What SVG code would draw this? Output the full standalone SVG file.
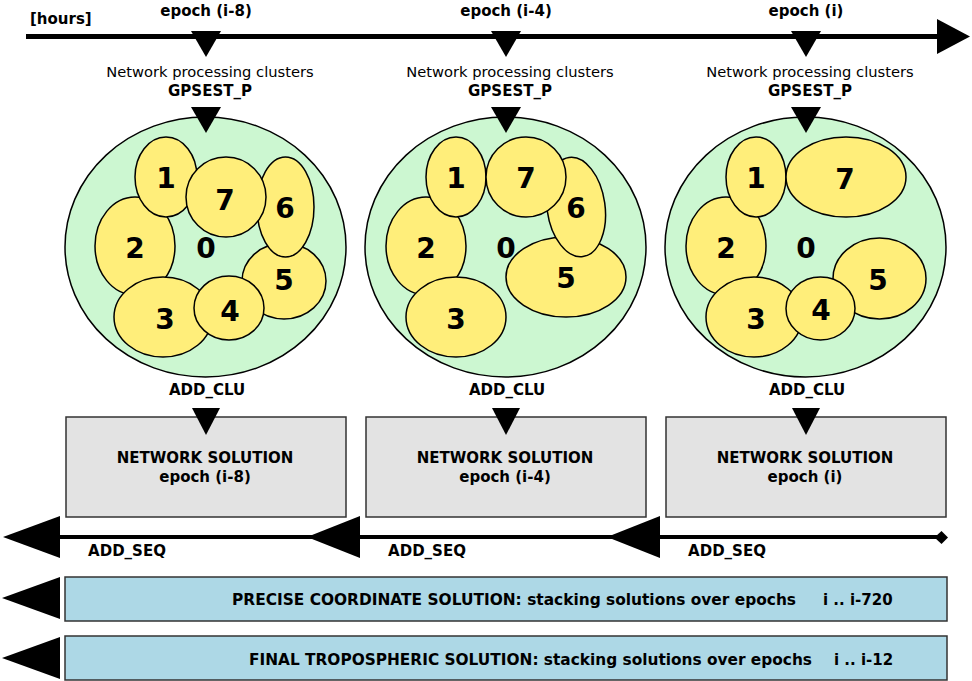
<svg xmlns="http://www.w3.org/2000/svg" width="972" height="681" viewBox="0 0 972 681">
<style>
text{font-family:"DejaVu Sans","Liberation Sans",sans-serif;fill:#000}
.b{font-weight:bold;font-size:15px}
.r{font-size:14.7px}
.c{text-anchor:middle}
.num{font-weight:bold;font-size:28px;text-anchor:middle}
.big{fill:#ccf7d1;stroke:#000;stroke-width:1.5}
.el{fill:#ffee7a;stroke:#000;stroke-width:1.5}
.box{fill:#e3e3e3;stroke:#333;stroke-width:1.5}
.band{fill:#add8e6;stroke:#333;stroke-width:1.5}
.ln{stroke:#000;fill:none}
.hd{fill:#000}
</style>

<g id="timeline">
<line class="ln" x1="26" y1="36.5" x2="940" y2="36.5" stroke-width="5"/>
<polygon class="hd" points="937,19 970,36.5 937,54"/>
<text class="b" x="30" y="24">[hours]</text>
<text class="b c" x="206" y="16">epoch (i-8)</text>
<text class="b c" x="506" y="16">epoch (i-4)</text>
<text class="b c" x="806" y="16">epoch (i)</text>
</g>

<g id="cluster1">
<text class="r c" x="210" y="77">Network processing clusters</text>
<text class="b c" x="210" y="96">GPSEST_P</text>
<ellipse class="big" cx="205.5" cy="247" rx="140.5" ry="130"/>
<ellipse class="el" cx="135" cy="246" rx="40" ry="49"/>
<ellipse class="el" cx="166" cy="177" rx="31" ry="40"/>
<ellipse class="el" cx="163" cy="317" rx="49" ry="40"/>
<ellipse class="el" cx="284" cy="281" rx="42" ry="38"/>
<ellipse class="el" cx="229" cy="308" rx="35" ry="32"/>
<ellipse class="el" cx="285.5" cy="207" rx="28.5" ry="50"/>
<ellipse class="el" cx="226" cy="197" rx="40" ry="40"/>
<text class="num" x="166" y="188">1</text>
<text class="num" x="225" y="210">7</text>
<text class="num" x="285" y="218">6</text>
<text class="num" x="135" y="258">2</text>
<text class="num" x="206" y="258">0</text>
<text class="num" x="284" y="290">5</text>
<text class="num" x="165" y="329">3</text>
<text class="num" x="230" y="321">4</text>
</g>

<g id="cluster2">
<text class="r c" x="510" y="77">Network processing clusters</text>
<text class="b c" x="510" y="96">GPSEST_P</text>
<ellipse class="big" cx="505.5" cy="247" rx="140.5" ry="130"/>
<ellipse class="el" cx="426" cy="246" rx="40" ry="49"/>
<ellipse class="el" cx="456" cy="177" rx="30" ry="40"/>
<ellipse class="el" cx="456" cy="317" rx="50" ry="40"/>
<ellipse class="el" cx="566" cy="277" rx="60" ry="40"/>
<ellipse class="el" cx="576" cy="207" rx="29" ry="50" transform="rotate(-8 576 207)"/>
<ellipse class="el" cx="526" cy="177" rx="40" ry="40"/>
<text class="num" x="456" y="188">1</text>
<text class="num" x="526" y="188">7</text>
<text class="num" x="576" y="218">6</text>
<text class="num" x="426" y="258">2</text>
<text class="num" x="506" y="258">0</text>
<text class="num" x="566" y="288">5</text>
<text class="num" x="456" y="329">3</text>
</g>

<g id="cluster3">
<text class="r c" x="810" y="77">Network processing clusters</text>
<text class="b c" x="810" y="96">GPSEST_P</text>
<ellipse class="big" cx="805.5" cy="247" rx="140.5" ry="130"/>
<ellipse class="el" cx="726" cy="246" rx="40" ry="49"/>
<ellipse class="el" cx="756" cy="177" rx="30" ry="40"/>
<ellipse class="el" cx="754" cy="317" rx="48" ry="40"/>
<ellipse class="el" cx="879.5" cy="278.5" rx="46.5" ry="40.5"/>
<ellipse class="el" cx="820.5" cy="308.5" rx="34.5" ry="31.5"/>
<ellipse class="el" cx="846" cy="177" rx="60" ry="40"/>
<text class="num" x="756" y="188">1</text>
<text class="num" x="845" y="189">7</text>
<text class="num" x="726" y="258">2</text>
<text class="num" x="806" y="258">0</text>
<text class="num" x="878" y="290">5</text>
<text class="num" x="756" y="329">3</text>
<text class="num" x="821" y="320">4</text>
</g>

<g id="solution1">
<text class="b c" x="207" y="395">ADD_CLU</text>
<rect class="box" x="66" y="417" width="280" height="100"/>
<text class="b c" x="205" y="463">NETWORK SOLUTION</text>
<text class="b c" x="205" y="482">epoch (i-8)</text>
</g>
<g id="solution2">
<text class="b c" x="507" y="395">ADD_CLU</text>
<rect class="box" x="366" y="417" width="280" height="100"/>
<text class="b c" x="505" y="463">NETWORK SOLUTION</text>
<text class="b c" x="505" y="482">epoch (i-4)</text>
</g>
<g id="solution3">
<text class="b c" x="807" y="395">ADD_CLU</text>
<rect class="box" x="666" y="417" width="280" height="100"/>
<text class="b c" x="805" y="463">NETWORK SOLUTION</text>
<text class="b c" x="805" y="482">epoch (i)</text>
</g>

<g id="precise">
<rect class="band" x="65" y="577" width="882" height="44"/>
<text class="b" x="232" y="605" textLength="564" lengthAdjust="spacingAndGlyphs">PRECISE COORDINATE SOLUTION: stacking solutions over epochs</text>
<text class="b" x="823" y="605">i .. i-720</text>
</g>
<g id="tropo">
<rect class="band" x="65" y="636" width="882" height="44"/>
<text class="b" x="249" y="665" textLength="563" lengthAdjust="spacingAndGlyphs">FINAL TROPOSPHERIC SOLUTION: stacking solutions over epochs</text>
<text class="b" x="834" y="665">i .. i-12</text>
</g>

<g id="connectors">
<polygon class="hd" points="191,31 221,31 206,57"/>
<polygon class="hd" points="491,31 521,31 506,57"/>
<polygon class="hd" points="791,31 821,31 806,57"/>
<polygon class="hd" points="191,107 221,107 206,133"/>
<polygon class="hd" points="491,107 521,107 506,133"/>
<polygon class="hd" points="791,107 821,107 806,133"/>
<polygon class="hd" points="192,408 220,408 206,435"/>
<polygon class="hd" points="492,408 520,408 506,435"/>
<polygon class="hd" points="792,408 820,408 806,435"/>
<line class="ln" x1="30" y1="537" x2="940" y2="537" stroke-width="4"/>
<polygon class="hd" points="934.5,537.5 941.5,531 948,537.5 941.5,544"/>
<polygon class="hd" points="3,537 60,516 60,558"/>
<polygon class="hd" points="307,537 360,516 360,558"/>
<polygon class="hd" points="607,537 660,516 660,558"/>
<text class="b c" x="127" y="556">ADD_SEQ</text>
<text class="b c" x="427" y="556">ADD_SEQ</text>
<text class="b c" x="727" y="556">ADD_SEQ</text>
<polygon class="hd" points="2,598 60,577 60,619"/>
<polygon class="hd" points="2,658 60,637 60,679"/>
</g>
</svg>
